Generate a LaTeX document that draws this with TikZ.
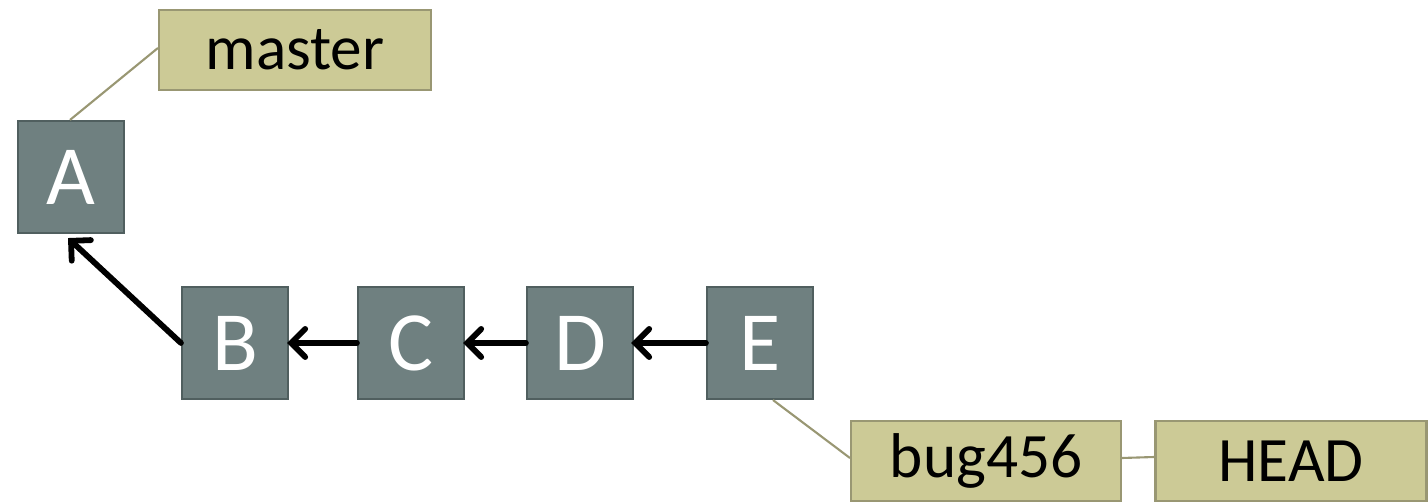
\documentclass[tikz,border=0pt]{standalone}
\usepackage{fontspec}
\setmainfont{Carlito}
\usetikzlibrary{arrows.meta}
\definecolor{cfill}{RGB}{111,128,128}
\definecolor{cdraw}{RGB}{80,95,95}
\definecolor{tfill}{RGB}{204,202,150}
\definecolor{tdraw}{RGB}{153,151,115}
\begin{document}
\begin{tikzpicture}[x=0.02cm,y=-0.02cm,
  commit/.style={draw=cdraw,fill=cfill,line width=1.2pt,minimum width=106*0.02cm,minimum height=112*0.02cm,inner sep=0pt,text=white,font=\fontsize{48}{52}\selectfont},
  tag/.style={draw=tdraw,fill=tfill,line width=1.2pt,minimum height=80*0.02cm,inner sep=0pt,text=black,font=\fontsize{36}{40}\selectfont},
  link/.style={draw=tdraw,line width=1.2pt},
  parent/.style={draw=black,line width=3.3pt,line cap=round,-{Straight Barb[length=8pt,width=16pt,line cap=round]}}]
\useasboundingbox (0,0) rectangle (1428,502);
\node[commit] (A) at (71,177) {A};
\node[commit] (B) at (235,343) {B};
\node[commit] (C) at (411,343) {C};
\node[commit] (D) at (580,343) {D};
\node[commit] (E) at (760,343) {E};
\node[tag,minimum width=272*0.02cm] (master) at (295,50) {master};
\node[tag,minimum width=270*0.02cm] (bug) at (986,461) {bug456};
\node[tag,minimum width=271*0.02cm] (head) at (1291,461) {HEAD};
\draw[link] (master.west) ++(0,-2) -- ([xshift=-1*0.02cm]A.north);
\draw[link] ([xshift=13*0.02cm]E.south) -- ([yshift=3*0.02cm]bug.west);
\draw[link] ([yshift=3*0.02cm]bug.east) -- ([yshift=4*0.02cm]head.west);
\draw[parent] (B.west) -- ([xshift=-3*0.02cm,yshift=-4*0.02cm]A.south);
\draw[parent] (C.west) -- ([xshift=-2*0.02cm]B.east);
\draw[parent] (D.west) -- ([xshift=-2*0.02cm]C.east);
\draw[parent] (E.west) -- ([xshift=-3*0.02cm]D.east);
\end{tikzpicture}
\end{document}
